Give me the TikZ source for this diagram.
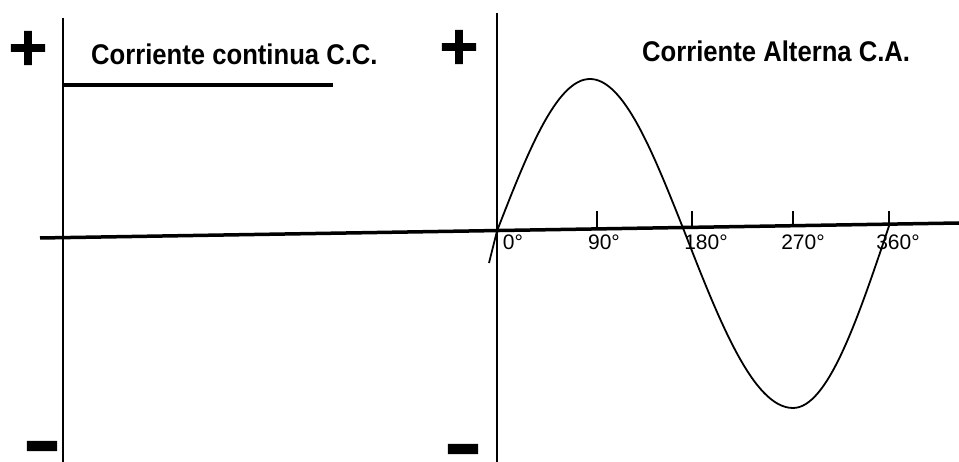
\documentclass[tikz,border=0pt]{standalone}
\usepackage{fontspec}
\setmainfont{Liberation Sans}
\newfontfamily\narrowfont[FakeStretch=0.9]{Liberation Sans}
\newfontfamily\signfont[FakeBold=3]{DejaVu Sans}
\newfontfamily\minusfont[FakeBold=35]{DejaVu Sans}
\usetikzlibrary{positioning}

\begin{document}
\begin{tikzpicture}[
  x=1pt, y=-1pt,
  axis/.style={line width=3.5pt},
  tick/.style={line width=1.3pt},
  wave/.style={line width=1.8pt, line join=round},
  title/.style={font=\narrowfont\bfseries\fontsize{28.5}{32}\selectfont, inner sep=0pt, anchor=base west},
  sign/.style={font=\signfont\bfseries\fontsize{52}{52}\selectfont, inner sep=0pt},
  minus/.style={font=\minusfont\bfseries\fontsize{22}{22}\selectfont, inner sep=0pt, anchor=base},
  deg/.style={font=\fontsize{21}{24}\selectfont, inner sep=0pt, anchor=base}
]
\useasboundingbox (0,0) rectangle (959,462);

% axes
\coordinate (hl) at (40,238);
\coordinate (hr) at (959,223);
\draw[axis] (hl) -- (hr);
\draw[axis, line width=2.5pt] (63,18) -- (63,462);
\draw[axis, line width=2.5pt] (497,13) -- (497,462);

% signs
\node[sign] (plusdc) at (28,48) {+};
\node[sign] (plusac) at (459,47) {+};
\node[minus] (minusdc) at (42,453) {\scalebox{1.4}[1]{−}};
\node[minus] (minusac) at (463,456) {\scalebox{1.4}[1]{−}};

% titles
\node[title] (cc) at (91,65) {Corriente continua C.C.};
\node[title] (ca) at (642,62) {Corriente Alterna C.A.};

% direct current
\draw[line width=4pt] (63,85) -- (333,85);

% ticks and degrees
\node[deg] (deg0) at (513,250) {0°};
\foreach \tx/\ty/\lab/\lx in {597/228.9/90/604, 692/227.4/180/706, 793/225.7/270/803, 889/224.1/360/898} {
  \draw[tick] (\tx,211) -- (\tx,\ty);
  \node[deg] (deg\lab) at (\lx,250) {\lab°};
}

% alternating current
\draw[wave] (489,263) -- (497,231) sin (590,79) cos (683,228) sin (793,408) cos (889,226);
\end{tikzpicture}
\end{document}
